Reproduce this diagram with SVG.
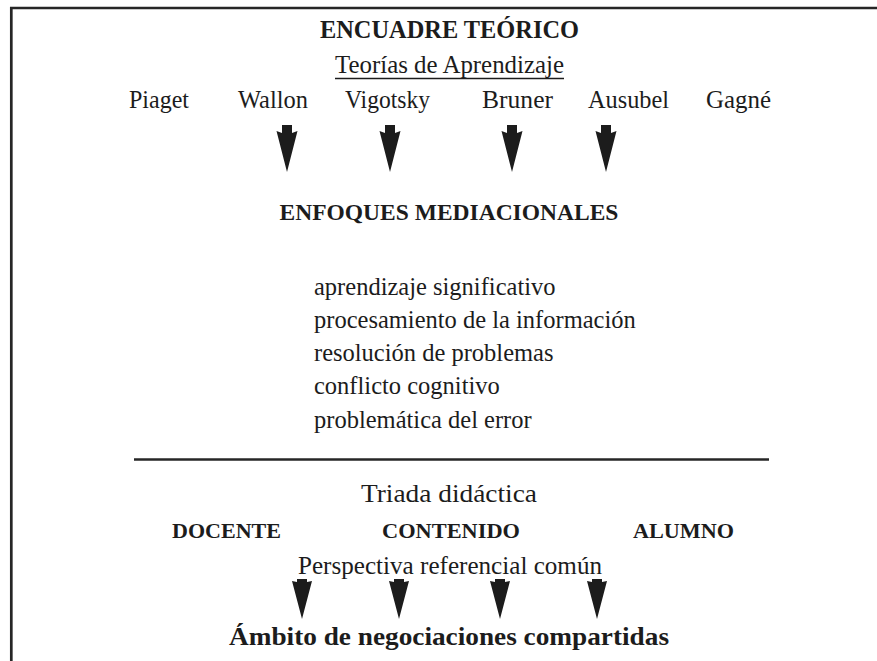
<svg xmlns="http://www.w3.org/2000/svg" xmlns:xlink="http://www.w3.org/1999/xlink" width="877" height="661" viewBox="0 0 877 661">
  <defs>
    <style>
      text { font-family: "Liberation Serif", "Times New Roman", serif; fill: #1c1c1c; }
      .b { font-weight: bold; }
      .reg { font-size: 24.5px; }
      .frame { stroke: #262626; stroke-width: 2.7; fill: none; }
      .rule { stroke: #262626; stroke-width: 2.6; fill: none; }
      .arr { fill: #1c1c1c; }
    </style>
    <path id="arrTop" class="arr" d="M-5,0 L5,0 L5,8 L10.5,6 L0,47 L-10.5,6 L-5,8 Z"/>
    <path id="arrBot" class="arr" d="M-5,0 L5,0 L5,3 L10,2 L0,40 L-10,2 L-5,3 Z"/>
  </defs>
  <rect width="877" height="661" fill="#ffffff"/>
  <g id="frame">
    <path class="frame" d="M11.3,661 L11.3,8 L877,8"/>
  </g>

  <g id="encuadre">
    <text class="b" x="320" y="38" font-size="24.5" textLength="259" lengthAdjust="spacingAndGlyphs">ENCUADRE TEÓRICO</text>
  </g>
  <g id="teorias">
    <text class="reg" x="335" y="73" textLength="229" lengthAdjust="spacingAndGlyphs">Teorías de Aprendizaje</text>
    <line x1="335" y1="78.5" x2="564" y2="78.5" stroke="#1c1c1c" stroke-width="1.4"/>
  </g>
  <g id="piaget"><text class="reg" x="129" y="108" textLength="60" lengthAdjust="spacingAndGlyphs">Piaget</text></g>
  <g id="wallon"><text class="reg" x="238" y="108" textLength="70" lengthAdjust="spacingAndGlyphs">Wallon</text></g>
  <g id="vigotsky"><text class="reg" x="345" y="108" textLength="85" lengthAdjust="spacingAndGlyphs">Vigotsky</text></g>
  <g id="bruner"><text class="reg" x="482" y="108" textLength="71" lengthAdjust="spacingAndGlyphs">Bruner</text></g>
  <g id="ausubel"><text class="reg" x="588" y="108" textLength="81" lengthAdjust="spacingAndGlyphs">Ausubel</text></g>
  <g id="gagne"><text class="reg" x="706" y="108" textLength="65" lengthAdjust="spacingAndGlyphs">Gagné</text></g>

  <g id="enfoques">
    <text class="b" x="449" y="220" font-size="23.5" text-anchor="middle">ENFOQUES MEDIACIONALES</text>
  </g>
  <g id="lista">
    <text class="reg" x="314" y="295">aprendizaje significativo</text>
    <text class="reg" x="314" y="328">procesamiento de la información</text>
    <text class="reg" x="314" y="361">resolución de problemas</text>
    <text class="reg" x="314" y="394">conflicto cognitivo</text>
    <text class="reg" x="314" y="428">problemática del error</text>
  </g>
  <g id="separador">
    <line class="rule" x1="134" y1="459.5" x2="769" y2="459.5"/>
  </g>
  <g id="triada">
    <text class="reg" x="361" y="502" textLength="176" lengthAdjust="spacingAndGlyphs">Triada didáctica</text>
  </g>
  <g id="docente"><text class="b" x="172" y="538" font-size="22" textLength="109" lengthAdjust="spacingAndGlyphs">DOCENTE</text></g>
  <g id="contenido"><text class="b" x="382" y="538" font-size="22" textLength="138" lengthAdjust="spacingAndGlyphs">CONTENIDO</text></g>
  <g id="alumno"><text class="b" x="633" y="538" font-size="22" textLength="101" lengthAdjust="spacingAndGlyphs">ALUMNO</text></g>
  <g id="perspectiva">
    <text class="reg" x="298" y="574" textLength="304" lengthAdjust="spacingAndGlyphs">Perspectiva referencial común</text>
  </g>
  <g id="ambito">
    <text class="b" x="229" y="645" font-size="25" textLength="440" lengthAdjust="spacingAndGlyphs">Ámbito de negociaciones compartidas</text>
  </g>

  <g id="connectors">
    <use xlink:href="#arrTop" transform="translate(287,125)"/>
    <use xlink:href="#arrTop" transform="translate(390,125)"/>
    <use xlink:href="#arrTop" transform="translate(512,125)"/>
    <use xlink:href="#arrTop" transform="translate(606,125)"/>
    <use xlink:href="#arrBot" transform="translate(302,579)"/>
    <use xlink:href="#arrBot" transform="translate(399,579)"/>
    <use xlink:href="#arrBot" transform="translate(500,579)"/>
    <use xlink:href="#arrBot" transform="translate(597,579)"/>
  </g>
</svg>
